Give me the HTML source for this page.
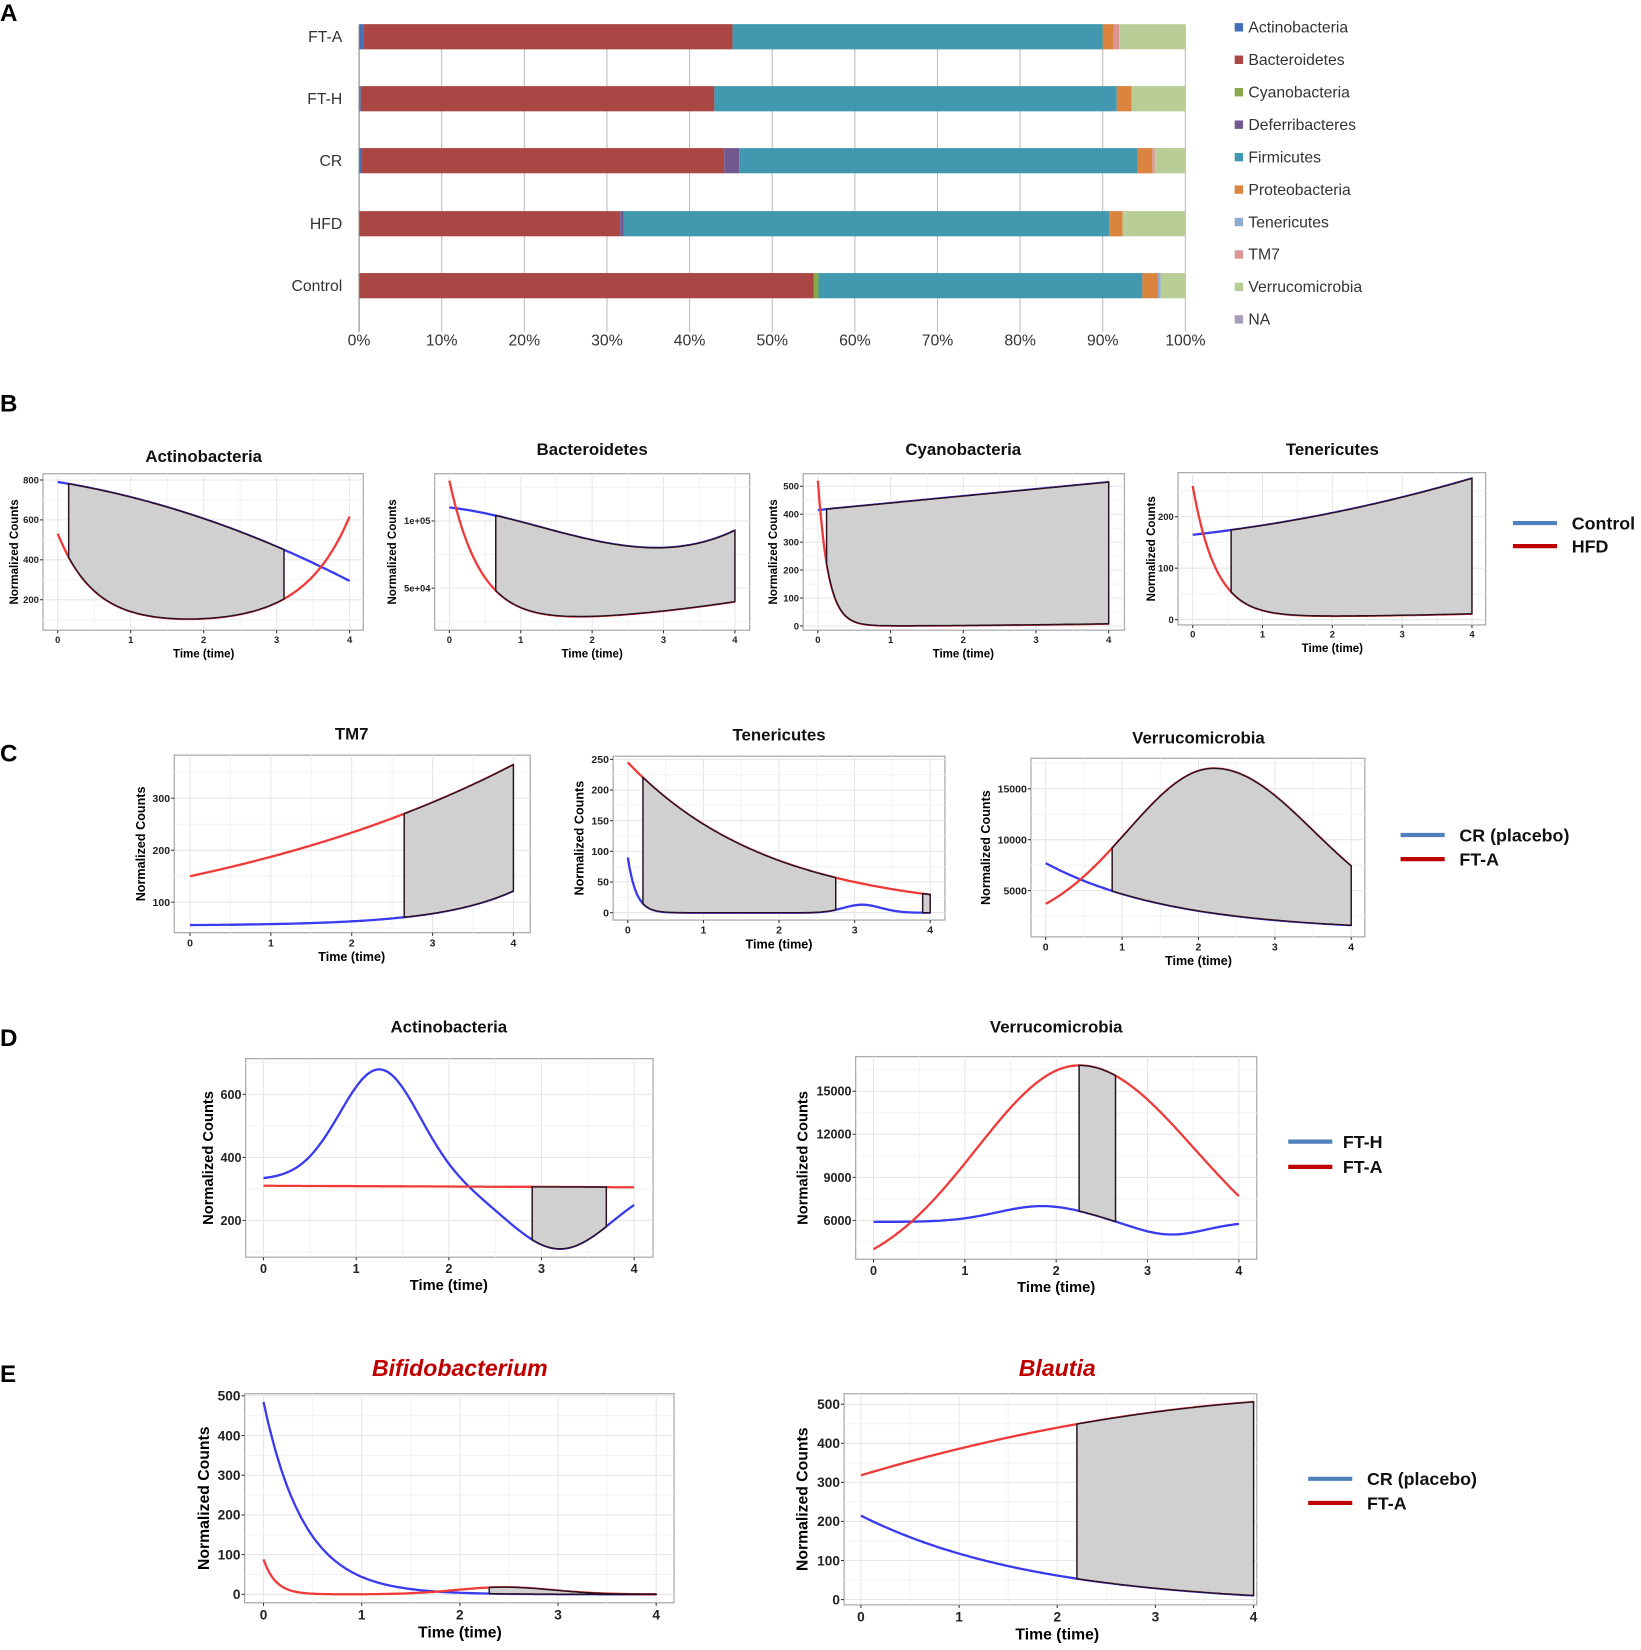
<!DOCTYPE html>
<html><head><meta charset="utf-8"><style>
html,body{margin:0;padding:0;background:#fff}
svg{display:block}
text{font-family:"Liberation Sans",sans-serif}
</style></head><body>
<svg id="s" width="1641" height="1650" viewBox="0 0 1563 1571" preserveAspectRatio="none" xmlns="http://www.w3.org/2000/svg"></svg>
<script>
const S=document.getElementById('s');let h='';
function T(x,y,t,o){o=o||{};h+=`<text x="${x}" y="${y}" font-size="${o.fs||12}" font-weight="${o.fw||'normal'}" fill="${o.c||'#222'}" text-anchor="${o.a||'start'}" ${o.st?'font-style="italic"':''} ${o.tr?`transform="${o.tr}"`:''}>${t}</text>`;}
[['A',20],['B',392],['C',725],['D',996],['E',1316]].forEach(([l,y])=>T(0,y,l,{fs:23,fw:'bold',c:'#000'}));
const X0=342,X1=1129,px=p=>X0+(X1-X0)*p/100;
for(let i=0;i<=10;i++){h+=`<line x1="${px(i*10)}" y1="24" x2="${px(i*10)}" y2="316" stroke="#bbb" stroke-width="1"/>`;T(px(i*10),329,i*10+'%',{fs:15,a:'middle',c:'#333'});}
const C={A:'#4470b8',B:'#aa4643',Cy:'#8aa84a',D:'#71588f',F:'#4198af',P:'#db843d',Te:'#93a9cf',TM:'#d99694',V:'#b9cd96',N:'#a99bbd'};
const bars=[['FT-A',35,[['A',0.5],['B',45.2],['F',90],['P',91.3],['TM',92],['V',100]]],
['FT-H',94,[['A',0.2],['B',43],['F',91.7],['P',93.5],['V',100]]],
['CR',153,[['A',0.3],['B',44.2],['D',46],['F',94.2],['P',96],['TM',96.3],['V',100]]],
['HFD',213,[['B',31.6],['D',32],['F',90.8],['P',92.4],['V',100]]],
['Control',272,[['B',55],['Cy',55.6],['F',94.8],['P',96.7],['Te',97],['V',100]]]];
bars.forEach(([n,y,segs])=>{let s=0;segs.forEach(([k,e])=>{h+=`<rect x="${px(s)}" y="${y-12}" width="${px(e)-px(s)}" height="24" fill="${C[k]}"/>`;s=e;});T(326,y+5,n,{fs:15,a:'end',c:'#333'});});
h+=`<line x1="${X0}" y1="24" x2="${X0}" y2="316" stroke="#888"/>`;
[['Actinobacteria','A'],['Bacteroidetes','B'],['Cyanobacteria','Cy'],['Deferribacteres','D'],['Firmicutes','F'],['Proteobacteria','P'],['Tenericutes','Te'],['TM7','TM'],['Verrucomicrobia','V'],['NA','N']].forEach(([n,k],i)=>{const y=26+i*30.9;h+=`<rect x="1176" y="${y-4}" width="8" height="8" fill="${C[k]}"/>`;T(1189,y+5,n,{fs:15,c:'#333'});});
let cid=0;
function plot(o){
 const tx=t=>o.t0+t*(o.t4-o.t0)/4;
 const v1=o.yt[0][0],p1=o.yt[0][1],v2=o.yt[o.yt.length-1][0],p2=o.yt[o.yt.length-1][1];
 const vy=v=>p1+(v-v1)*(p2-p1)/(v2-v1);
 cid++;
 h+=`<clipPath id="c${cid}"><rect x="${o.x0}" y="${o.y0}" width="${o.x1-o.x0}" height="${o.y1-o.y0}"/></clipPath>`;
 h+=`<rect x="${o.x0}" y="${o.y0}" width="${o.x1-o.x0}" height="${o.y1-o.y0}" fill="#fff" stroke="#aaa" stroke-width="1.2"/>`;
 const dt=(o.t4-o.t0)/4;
 for(let i=0;i<=8;i++){const x=o.t0+i*dt/2;h+=`<line x1="${x}" y1="${o.y0}" x2="${x}" y2="${o.y1}" stroke="${i%2?'#f3f3f3':'#e6e6e6'}"/>`;}
 const dp=(p2-p1)/(o.yt.length-1);
 for(let i=-1;i<=o.yt.length;i++){const y=p1+i*dp;if(y>o.y0&&y<o.y1)h+=`<line x1="${o.x0}" y1="${y}" x2="${o.x1}" y2="${y}" stroke="#e6e6e6"/>`;const y2=y+dp/2;if(y2>o.y0&&y2<o.y1)h+=`<line x1="${o.x0}" y1="${y2}" x2="${o.x1}" y2="${y2}" stroke="#f3f3f3"/>`;}
 const fs=o.fs||10;
 for(let i=0;i<=4;i++){const x=tx(i);h+=`<line x1="${x}" y1="${o.y1}" x2="${x}" y2="${o.y1+3}" stroke="#333"/>`;T(x,o.y1+fs+3,i,{fs:fs,fw:'bold',a:'middle',c:'#222'});}
 o.yt.forEach(([v,p])=>{h+=`<line x1="${o.x0-3}" y1="${p}" x2="${o.x0}" y2="${p}" stroke="#333"/>`;T(o.x0-4,p+fs*0.35,o.lab?o.lab(v):v,{fs:fs,fw:'bold',a:'end',c:'#222'});});
 T(tx(2),o.y1+fs+3+(o.xl||14),'Time (time)',{fs:fs+2,fw:'bold',a:'middle',c:'#000'});
 T(0,0,'Normalized Counts',{fs:fs+2,fw:'bold',a:'middle',c:'#000',tr:`translate(${o.ylx},${(o.y0+o.y1)/2}) rotate(-90)`});
 T(tx(2),o.tiy,o.title,o.tio||{fs:16,fw:'bold',a:'middle',c:'#111'});
 const path=(f,a,b)=>{let d='';const n=200;for(let i=0;i<=n;i++){const t=a+(b-a)*i/n;d+=(i?'L':'M')+tx(t).toFixed(1)+','+vy(f(t)).toFixed(1);}return d;};
 let g=`<g clip-path="url(#c${cid})">`;
 g+=`<path d="${path(o.b,0,4)}" fill="none" stroke="#3a3af0" stroke-width="2.2"/>`;
 g+=`<path d="${path(o.r,0,4)}" fill="none" stroke="#f03a3a" stroke-width="2.2"/>`;
 (o.sh||[]).forEach(([a,b])=>{const n=100,pts=[];for(let i=0;i<=n;i++){const t=a+(b-a)*i/n;pts.push([tx(t),vy(o.r(t))]);}for(let i=n;i>=0;i--){const t=a+(b-a)*i/n;pts.push([tx(t),vy(o.b(t))]);}
  const d='M'+pts.map(p=>p[0].toFixed(1)+','+p[1].toFixed(1)).join('L')+'Z';
  g+=`<path d="${d}" fill="#d0d0d0" stroke="#2a1020" stroke-width="1.4"/>`;});
 g+='</g>';h+=g;
}
const E=Math.exp;
function G(t,m,w){const z=(t-m)/w;return Math.exp(-z*z);}
plot({x0:41,x1:346,y0:451,y1:600,t0:55,t4:333,yt:[[200,571],[400,533],[600,495],[800,457]],b:t=>790-60*t-16*t*t,r:t=>75+455*E(-2*t)+0.9*E(1.6*t),sh:[[0.15,3.1]],title:'Actinobacteria',tiy:440,ylx:17,fs:9});
plot({x0:414,x1:714,y0:451,y1:600,t0:428,t4:700,yt:[[50000,560],[100000,496]],lab:v=>v==1e5?'1e+05':'5e+04',b:t=>110000-5598*t-6840*t*t+1794.3*t*t*t,r:t=>24000+106000*E(-2.3*t)+1000*t*t,sh:[[0.65,4]],title:'Bacteroidetes',tiy:433,ylx:377,fs:9});
plot({x0:765,x1:1071,y0:451,y1:600,t0:779,t4:1056,yt:[[0,596],[100,569.4],[200,542.8],[300,516.2],[400,489.6],[500,463]],b:t=>415+25*t,r:t=>520*E(-7*t)+0.5*t*t,sh:[[0.12,4]],title:'Cyanobacteria',tiy:433,ylx:740,fs:9});
plot({x0:1122,x1:1415,y0:450,y1:595,t0:1136,t4:1402,yt:[[0,590],[100,541],[200,492]],b:t=>165+15*t+3.1*t*t,r:t=>5+255*E(-3*t)+0.4*t*t,sh:[[0.55,4]],title:'Tenericutes',tiy:433,ylx:1100,fs:9});
plot({x0:166,x1:505,y0:719,y1:888,t0:181,t4:489,yt:[[100,859],[200,809.5],[300,760]],b:t=>55+E(1.05*t),r:t=>150*E(0.222*t),sh:[[2.65,4]],title:'TM7',tiy:704,ylx:138,fs:10});
plot({x0:584,x1:900,y0:720,y1:876,t0:598,t4:886,yt:[[0,869],[50,839.8],[100,810.6],[150,781.4],[200,752.2],[250,723]],b:t=>90*E(-9*t)+13*G(t,3.1,0.35),r:t=>245*E(-0.53*t),sh:[[0.2,2.75],[3.9,4]],title:'Tenericutes',tiy:705,ylx:556,fs:10});
plot({x0:982,x1:1300,y0:722,y1:892,t0:996,t4:1287,yt:[[5000,848],[10000,799.5],[15000,751]],b:t=>1000+6700*E(-0.6*t),r:t=>t<2.2?1335+15665*G(t,2.2,1.6):1335+15665*G(t,2.2,1.85),sh:[[0.87,4]],title:'Verrucomicrobia',tiy:708,ylx:943,fs:10});
plot({x0:234,x1:622,y0:1008,y1:1197,t0:251,t4:604,yt:[[200,1162],[400,1102],[600,1042]],b:t=>330+350*G(t,1.25,0.6)-220*G(t,3.2,0.8),r:t=>310-1.2*t,sh:[[2.9,3.7]],title:'Actinobacteria',tiy:983,ylx:203,fs:12,xl:16});
plot({x0:815,x1:1197,y0:1006,y1:1199,t0:832,t4:1180,yt:[[6000,1162],[9000,1121],[12000,1080],[15000,1039]],b:t=>5900+1100*G(t,1.85,0.7)-900*G(t,3.25,0.55),r:t=>t<2.25?2000+14800*G(t,2.25,1.59):2000+14800*G(t,2.25,1.79),sh:[[2.25,2.65]],title:'Verrucomicrobia',tiy:983,ylx:769,fs:12,xl:16});
plot({x0:233,x1:642,y0:1327,y1:1526,t0:251,t4:625,yt:[[0,1518],[100,1480.2],[200,1442.4],[300,1404.6],[400,1366.8],[500,1329]],b:t=>485*E(-2.4*t),r:t=>88*E(-8*t)+18*G(t,2.45,0.7),sh:[[2.3,4]],title:'Bifidobacterium',tiy:1310,ylx:199,fs:13,xl:17,tio:{fs:22,fw:'bold',a:'middle',c:'#c00000',st:1}});
plot({x0:804,x1:1197,y0:1327,y1:1528,t0:820,t4:1194,yt:[[0,1523],[100,1485.8],[200,1448.6],[300,1411.4],[400,1374.2],[500,1337]],b:t=>230*E(-0.55*t)-15,r:t=>318+75*t-7*t*t,sh:[[2.2,4]],title:'Blautia',tiy:1310,ylx:769,fs:13,xl:17,tio:{fs:22,fw:'bold',a:'middle',c:'#c00000',st:1}});
function leg(x,y1,y2,n1,n2,lx){h+=`<line x1="${x}" y1="${y1}" x2="${x+42}" y2="${y1}" stroke="#4f81bd" stroke-width="4"/><line x1="${x}" y1="${y2}" x2="${x+42}" y2="${y2}" stroke="#c00000" stroke-width="4"/>`;T(lx,y1+6,n1,{fs:17,fw:'bold',c:'#111'});T(lx,y2+6,n2,{fs:17,fw:'bold',c:'#111'});}
leg(1441,498,520,'Control','HFD',1497);
leg(1334,795,818,'CR (placebo)','FT-A',1390);
leg(1227,1087,1111,'FT-H','FT-A',1279);
leg(1246,1408,1431,'CR (placebo)','FT-A',1302);
S.innerHTML=h;
</script>
</body></html>
